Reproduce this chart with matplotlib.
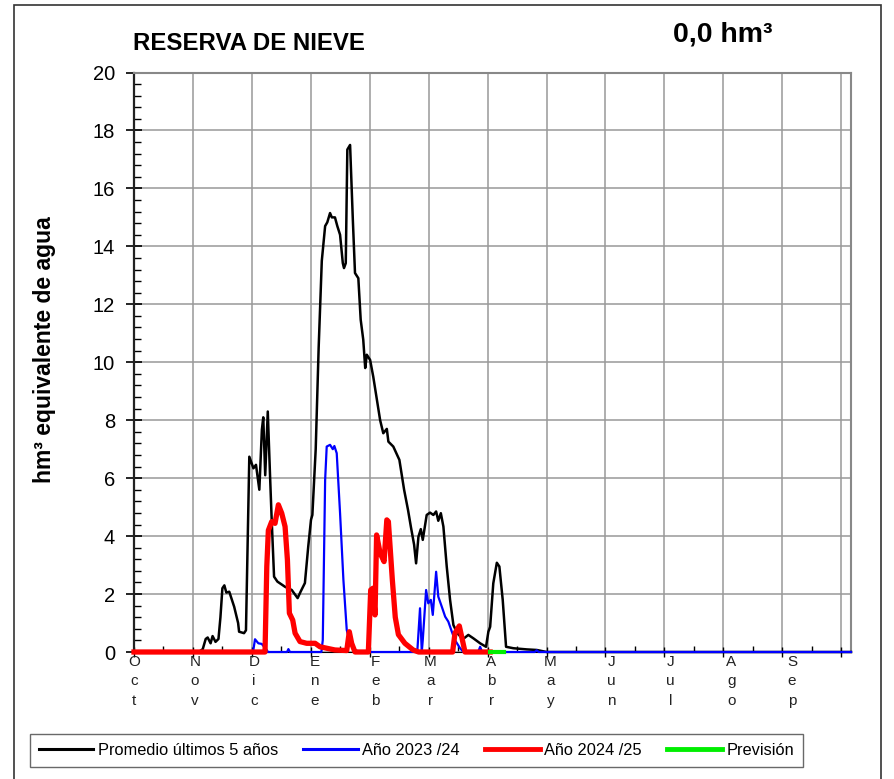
import matplotlib
matplotlib.use("Agg")
import matplotlib.pyplot as plt
from matplotlib.patches import Rectangle
import numpy as np

plt.rcParams['font.family'] = ['Liberation Sans', 'DejaVu Sans']

# days counted from 1 Oct
month_start = [0, 31, 61, 92, 123, 151, 182, 212, 243, 273, 304, 335]
month_names = ["Oct", "Nov", "Dic", "Ene", "Feb", "Mar", "Abr", "May", "Jun", "Jul", "Ago", "Sep"]

prom_dias = [0, 33, 35, 36.5, 37.5, 39, 40, 41.5, 43, 44, 45, 46, 47, 48.5, 51, 53, 53.5, 56, 57,
             58.7, 60.8, 62.1, 63.8, 65.1, 65.8, 66.8, 68.1, 69.3, 70.1, 71.3, 73, 76.9, 80.3, 83.3,
             84.8, 87, 88.7, 90.1, 90.8, 92.5, 94, 95.6, 97.3, 98.4, 99.8, 100.7, 102.3, 103.5,
             104.9, 106.3, 106.9, 107.8, 108.6, 110.0, 111.4, 112.5, 114.2, 115.4, 116.7, 117.7,
             118.5, 120.2, 121.8, 125.3, 126.9, 128.7, 129.5, 132.0, 135.1, 137.5, 139.5, 141.0,
             142.6, 143.6, 144.8, 146.0, 147.0, 149.0, 150.7, 152.4, 153.8, 154.9, 156.2, 157.5,
             159.2, 160.9, 162.6, 164.6, 167.4, 170.2, 172.8, 176.2, 179.2, 180.4, 181.3, 182.9,
             184.7, 186.0, 187.7, 189.4, 193.1, 199.9, 205.0, 210.1, 365]
prom_vals = [0, 0, 0.1, 0.45, 0.5, 0.3, 0.55, 0.35, 0.45, 1.2, 2.2, 2.3, 2.05, 2.08, 1.56, 1.0, 0.7,
             0.65, 0.75, 6.74, 6.34, 6.46, 5.6, 7.67, 8.1, 6.1, 8.3, 6.0, 4.55, 2.6, 2.43, 2.25, 2.14,
             1.86, 2.08, 2.38, 3.64, 4.56, 4.73, 7.0, 10.5, 13.5, 14.7, 14.83, 15.15, 15.0, 15.0,
             14.7, 14.4, 13.42, 13.25, 13.42, 17.34, 17.5, 14.92, 13.08, 12.9, 11.47, 10.78, 9.8,
             10.26, 10.08, 9.5, 8.0, 7.55, 7.7, 7.26, 7.09, 6.63, 5.6, 4.9, 4.3, 3.7, 3.06, 3.98,
             4.24, 3.87, 4.73, 4.81, 4.73, 4.85, 4.53, 4.79, 4.33, 2.95, 1.8, 0.93, 0.65, 0.44,
             0.59, 0.47, 0.3, 0.18, 0.7, 0.87, 2.37, 3.08, 2.95, 1.8, 0.18, 0.13, 0.09, 0.07, 0.0, 0]

a2324_dias = [0, 60.6, 61.6, 63.3, 65.0, 67.6, 68.2, 77.9, 78.6, 79.4, 95.4, 96.1, 97.3, 98.1, 99.8,
              101.2, 102.0, 103.2, 104.9, 106.6, 108.3, 110.0, 112.5, 115.1, 144.2, 145.6, 146.5,
              147.0, 148.7, 149.8, 151.1, 152.1, 153.8, 154.9, 156.7, 158.4, 160.0, 161.8, 163.4,
              166.0, 167.7, 175.2, 176.2, 177.2, 204, 205, 206, 365]
a2324_vals = [0, 0, 0.44, 0.3, 0.28, 0.07, 0, 0, 0.1, 0, 0, 0.41, 5.94, 7.09, 7.15, 7.0, 7.11, 6.86,
              4.79, 2.49, 0.76, 0.3, 0.07, 0, 0, 1.51, 0, 0.41, 2.14, 1.68, 1.8, 1.28, 2.77, 1.91,
              1.56, 1.22, 1.05, 0.7, 0.41, 0.13, 0, 0, 0.18, 0, 0, 0.06, 0, 0]

a2425_dias = [0, 66.7, 67.6, 68.4, 70.1, 71.8, 73.5, 75.2, 76.9, 78.1, 79.1, 80.8, 82.0, 84.5, 87.9,
              92.2, 94.7, 98.1, 102.3, 108.3, 109.6, 110.8, 112.5, 119.3, 120.5, 121.6, 122.7, 123.5,
              125.3, 127.3, 128.7, 129.5, 131.5, 133.0, 134.6, 137.9, 142.1, 144.9, 162.2, 163.4,
              165.6, 166.8, 168.5, 181.3]
a2425_vals = [0, 0, 2.95, 4.2, 4.5, 4.44, 5.08, 4.79, 4.33, 3.18, 1.34, 1.1, 0.65, 0.36, 0.3, 0.3,
              0.18, 0.13, 0.07, 0.05, 0.7, 0.3, 0, 0, 2.14, 2.2, 1.28, 4.04, 3.41, 3.12, 4.56, 4.5,
              2.5, 1.2, 0.6, 0.3, 0.07, 0, 0, 0.65, 0.9, 0.53, 0, 0]

prev_dias = [181.3, 188.4]
prev_vals = [0, 0]

fig = plt.figure(figsize=(8.95, 7.79), dpi=100)
ax = fig.add_axes([134 / 895, 1 - 652 / 779, 717 / 895, 579.5 / 779])

ax.plot(prom_dias, prom_vals, color="black", lw=1.8, zorder=3, clip_on=False,
        label="Promedio últimos 5 años")
ax.plot(a2324_dias, a2324_vals, color="#0000ff", lw=1.6, zorder=4, clip_on=False,
        label="Año 2023 /24")
ax.plot(a2425_dias, a2425_vals, color="#ff0000", lw=3.8, zorder=5, clip_on=False,
        label="Año 2024 /25")
ax.plot(prev_dias, prev_vals, color="#00ee00", lw=3.0, zorder=6, clip_on=False,
        label="Previsión")

ax.set_xlim(0, 365)
ax.set_ylim(0, 20)
ax.set_xticks(np.arange(0, 361, 30))
ax.set_xticks(np.arange(15, 361, 30), minor=True)
ax.set_yticks(np.arange(0, 21, 2))
ax.set_yticks(np.arange(0, 20.01, 0.4), minor=True)
ax.set_xticklabels([])
ax.tick_params(axis="x", which="major", direction="inout", length=7, width=1)
ax.tick_params(axis="x", which="minor", direction="in", length=4, width=1)
ax.tick_params(axis="y", which="major", direction="inout", length=12, width=1.2,
               labelsize=14.5, pad=7.5)
ax.tick_params(axis="y", which="minor", direction="in", length=5, width=1)
ax.grid(True, which="major", color="#999999", lw=1.1)
ax.set_axisbelow(True)
for s in ["top", "right"]:
    ax.spines[s].set_color("#888888")
    ax.spines[s].set_linewidth(1.5)
ax.spines["left"].set_linewidth(1.6)
ax.spines["left"].set_color("#222222")

for d, m in zip(month_start, month_names):
    ax.annotate("\n".join(m), (d, 0), xycoords=("data", "axes fraction"),
                xytext=(0, -2), textcoords="offset points", ha="center", va="top",
                fontsize=11, linespacing=1.5, color="#222222", annotation_clip=False)

fig.text(133 / 895, 1 - 43 / 779, "RESERVA DE NIEVE", fontsize=17.3, fontweight="bold",
         ha="left", va="center")
fig.text(723 / 895, 1 - 34 / 779, "0,0 hm³", fontsize=20.5, fontweight="bold",
         ha="center", va="center")
fig.text(45 / 895, 1 - 350 / 779, "hm³ equivalente de agua", fontsize=16.5, fontweight="bold",
         rotation=90, ha="center", va="center")

fig.patches.append(Rectangle((14 / 895, -0.1), 867 / 895, 1.1 - 5 / 779, transform=fig.transFigure,
                             fill=False, edgecolor="#333333", lw=1.2))

leg = fig.legend(loc="center", bbox_to_anchor=(416.5 / 895, 1 - 750.5 / 779), ncol=4,
                 fontsize=11.8, frameon=True, fancybox=False, edgecolor="#444444",
                 handlelength=3.3, handletextpad=0.3, columnspacing=1.55, borderpad=0.55)
leg.get_frame().set_linewidth(1.0)
for h in leg.get_lines():
    h.set_linewidth(3.5)
leg.get_lines()[0].set_linewidth(2.2)
leg.get_lines()[1].set_linewidth(2.2)

fig.savefig("out.png", dpi=100)
